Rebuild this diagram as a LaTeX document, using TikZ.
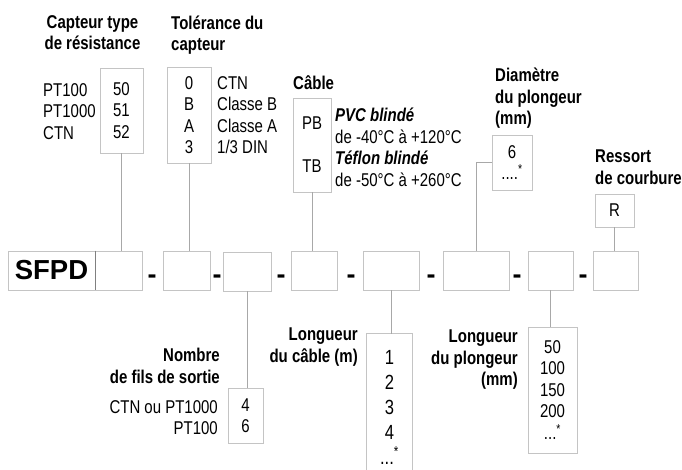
\documentclass[tikz,border=0pt]{standalone}
\usepackage{fontspec}
\setmainfont{Liberation Sans}[FakeStretch=0.81]
\newfontfamily\codefont{Liberation Sans}
\usepackage{tikz}
\definecolor{box-gray}{HTML}{C4C4C4}
\definecolor{lead-gray}{HTML}{A8A8A8}
\tikzset{
    opt-box/.style = {draw=box-gray, line width=0.9pt, inner sep=0pt, align=center, font=\fontsize{18.5}{21.5}\selectfont},
    code-box/.style = {opt-box, minimum height=39pt},
    lead-line/.style = {draw=lead-gray, line width=0.9pt},
    head-text/.style = {inner sep=0pt, font=\bfseries\fontsize{18.5}{21.5}\selectfont},
    plain-text/.style = {inner sep=0pt, font=\fontsize{18.5}{21.5}\selectfont},
    sep-dash/.style = {inner sep=0pt, anchor=base, font=\codefont\bfseries\fontsize{27}{27}\selectfont},
}

\begin{document}
\begin{tikzpicture}[x=1pt, y=-1pt]
\useasboundingbox (0,0) rectangle (682,469);

\node [code-box, minimum width=87pt, font=\codefont\bfseries\fontsize{27.5}{27.5}\selectfont] (sfpd) at (51.5,270.5) {SFPD};
\node [code-box, minimum width=47pt] (part-1) at (118.5,270.5) {};
\node [code-box, minimum width=47pt] (part-2) at (186.5,270.5) {};
\node [code-box, minimum width=48pt] (part-3) at (247,271.5) {};
\node [code-box, minimum width=46pt] (part-4) at (314,270.5) {};
\node [code-box, minimum width=56pt] (part-5) at (391,270.5) {};
\node [code-box, minimum width=66pt] (part-6) at (476,270.5) {};
\node [code-box, minimum width=45pt] (part-7) at (550.5,270.5) {};
\node [code-box, minimum width=45pt] (part-8) at (615.5,270.5) {};
\draw [draw=gray] (sfpd.north east) -- (sfpd.south east);

\node [sep-dash] (dash-1) at (152,283) {-};
\node [sep-dash] (dash-2) at (217,283) {-};
\node [sep-dash] (dash-3) at (281,283) {-};
\node [sep-dash] (dash-4) at (351,283) {-};
\node [sep-dash] (dash-5) at (431,283) {-};
\node [sep-dash] (dash-6) at (517,283) {-};
\node [sep-dash] (dash-7) at (583,283) {-};

\node [head-text, align=center, anchor=north] (type-title) at (92.5,15) {Capteur type\\de résistance};
\node [opt-box, minimum width=43pt, minimum height=85pt] (type-box) at (121.5,110.5) {50\\51\\52};
\node [plain-text, align=left, anchor=north west] (type-text) at (43,83) {PT100\\PT1000\\CTN};

\node [head-text, align=left, anchor=north west] (tol-title) at (171,15.5) {Tolérance du\\capteur};
\node [opt-box, minimum width=44pt, minimum height=96pt] (tol-box) at (189,115) {0\\B\\A\\3};
\node [plain-text, align=left, anchor=north west] (tol-text) at (217,76) {CTN\\Classe B\\Classe A\\1/3 DIN};

\node [head-text, anchor=north west] (cable-title) at (293,75) {Câble};
\node [opt-box, minimum width=38pt, minimum height=94pt] (cable-box) at (312,145) {PB\\[21.5pt]TB};
\node [plain-text, align=left, anchor=north west] (cable-text) at (335,108) {{\bfseries\itshape PVC blindé}\\de -40°C à +120°C\\{\bfseries\itshape Téflon blindé}\\de -50°C à +260°C};

\node [head-text, align=left, anchor=north west] (diam-title) at (495,68) {Diamètre\\du plongeur\\(mm)};
\node [opt-box, minimum width=40pt, minimum height=55pt] (diam-box) at (512,162.5) {6\\....\textsuperscript{*}};

\node [head-text, align=left, anchor=north west] (spring-title) at (595,150) {Ressort\\de courbure};
\node [opt-box, minimum width=39pt, minimum height=33pt] (spring-box) at (614.5,210.5) {R};

\node [head-text, align=right, anchor=north east] (wire-title) at (220,348) {Nombre\\de fils de sortie};
\node [opt-box, minimum width=35pt, minimum height=55pt] (wire-box) at (245.5,415.5) {4\\6};
\node [plain-text, align=right, anchor=north east] (wire-text) at (218,400) {CTN ou PT1000\\PT100};

\node [head-text, align=right, anchor=north east] (len-title) at (358,328) {Longueur\\du câble (m)};
\node [opt-box, draw=none, minimum width=45pt, minimum height=146pt, font=\fontsize{20.5}{25}\selectfont] (len-box) at (389.5,407) {1\\2\\3\\4\\...\textsuperscript{*}};
\draw [draw=box-gray, line width=0.9pt] (len-box.south west) -- (len-box.north west) -- (len-box.north east) -- (len-box.south east);

\node [head-text, align=right, anchor=north east] (probe-title) at (518,330) {Longueur\\du plongeur\\(mm)};
\node [opt-box, minimum width=49pt, minimum height=126pt] (probe-box) at (552.5,390) {50\\100\\150\\200\\...\textsuperscript{*}};

\draw [lead-line] (type-box.south) -- (type-box.south |- part-1.north);
\draw [lead-line] (tol-box.south) -- (tol-box.south |- part-2.north);
\draw [lead-line] (cable-box.south) -- (cable-box.south |- part-4.north);
\draw [lead-line] (diam-box.west) -| (part-6.north);
\draw [lead-line] (spring-box.south) -- (spring-box.south |- part-8.north);
\draw [lead-line] (part-3.south) -- (part-3.south |- wire-box.north);
\draw [lead-line] (part-5.south) -- (part-5.south |- len-box.north);
\draw [lead-line] (part-7.south) -- (part-7.south |- probe-box.north);
\end{tikzpicture}
\end{document}
